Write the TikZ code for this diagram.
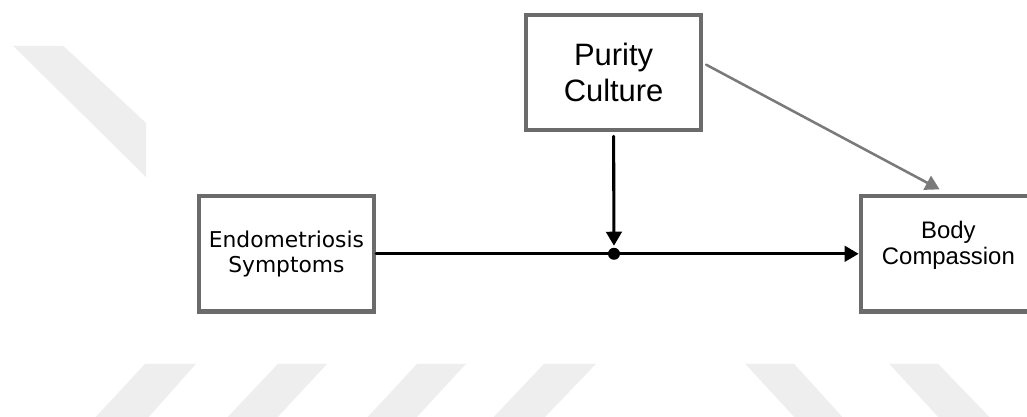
\documentclass[tikz,border=0pt]{standalone}
\usepackage{fontspec}
\setmainfont{Liberation Sans}
\newfontfamily\dejavu{DejaVu Sans}
\usepackage{tikz}
\usetikzlibrary{arrows}
\usetikzlibrary{arrows.meta}
\definecolor{boxgray}{HTML}{6B6B6B}
\definecolor{linkgray}{HTML}{7A7A7A}
\definecolor{markgray}{HTML}{EEEEEE}

\begin{document}
\begin{tikzpicture}[line cap=round,line join=round,>={Triangle[length=10pt,width=11pt]},x=1cm,y=1cm,
  var/.style={draw=boxgray,line width=3pt,line join=miter,fill=white,minimum width=4.38cm,minimum height=2.88cm,align=center,inner sep=0pt}]
\clip(0,0) rectangle (25.675,10.425);
\fill[white] (0,0) rectangle (25.675,10.425);
% faint stripes in the background
\fill[markgray] (0.33,9.28)-- (1.58,9.28)-- (3.65,7.35)-- (3.65,6)-- cycle;
\fill[markgray] (3.63,1.33)-- (4.9,1.33)-- (3.63,-0.1)-- (2.3,-0.1)-- cycle;
\fill[markgray] (6.95,1.33)-- (8.18,1.33)-- (6.85,-0.1)-- (5.6,-0.1)-- cycle;
\fill[markgray] (10.43,1.33)-- (11.65,1.33)-- (10.33,-0.1)-- (9.1,-0.1)-- cycle;
\fill[markgray] (13.6,1.33)-- (14.9,1.33)-- (13.53,-0.1)-- (12.25,-0.1)-- cycle;
\fill[markgray] (18.63,1.33)-- (19.85,1.33)-- (21.15,-0.1)-- (19.95,-0.1)-- cycle;
\fill[markgray] (22.23,1.33)-- (23.45,1.33)-- (24.83,-0.1)-- (23.55,-0.1)-- cycle;
% variables
\node[var,font=\dejavu\fontsize{15.5}{18}\selectfont] (endo) at (7.16,4.08) {Endometriosis\\Symptoms};
\node[var,font=\fontsize{22}{25.5}\selectfont] (purity) at (15.34,8.61) {Purity\\Culture};
\node[var,font=\fontsize{17}{18.5}\selectfont] (body) at (23.71,4.08)
  {\raisebox{0.18cm}[\height][\depth]{\begin{tabular}{@{}c@{}}Body\\Compassion\end{tabular}}};
\coordinate (mod) at (15.35,4.08);
% paths
\draw[line width=2.2pt,->] (endo.east)-- (body.west);
\draw[line width=2.2pt,->,shorten <=0.1cm,shorten >=0.2cm] (purity.south)-- (mod);
\fill (mod) circle (0.15);
\draw[linkgray,line width=1.8pt,->,shorten <=0.08cm,shorten >=0.25cm] (purity.6)-- (body.north);
\end{tikzpicture}
\end{document}
